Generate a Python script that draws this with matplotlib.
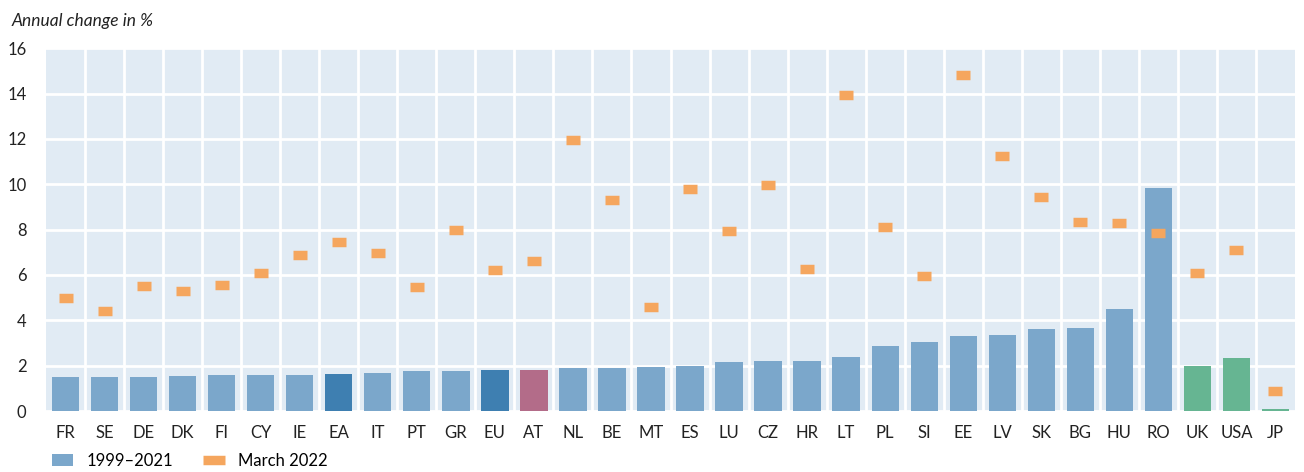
import matplotlib.pyplot as plt
import numpy as np
from matplotlib.patches import Patch
from matplotlib.lines import Line2D

plt.rcParams['font.family'] = ['Lato', 'DejaVu Sans']

# Daten
countries = ["FR", "SE", "DE", "DK", "FI", "CY", "IE", "EA", "IT", "PT", "GR", "EU", "AT",
             "NL", "BE", "MT", "ES", "LU", "CZ", "HR", "LT", "PL", "SI", "EE", "LV", "SK",
             "BG", "HU", "RO", "UK", "USA", "JP"]
avg_1999_2021 = [1.5, 1.5, 1.5, 1.55, 1.6, 1.6, 1.6, 1.65, 1.7, 1.75, 1.75, 1.8, 1.8,
                 1.9, 1.9, 1.95, 2.0, 2.15, 2.2, 2.2, 2.4, 2.85, 3.05, 3.3, 3.35, 3.6,
                 3.65, 4.5, 9.85, 2.0, 2.35, 0.1]
march_2022 = [5.0, 4.4, 5.5, 5.3, 5.55, 6.1, 6.9, 7.45, 6.95, 5.45, 8.0, 6.2, 6.6,
              11.95, 9.3, 4.6, 9.8, 7.95, 9.95, 6.25, 13.95, 8.1, 5.95, 14.8, 11.25, 9.45,
              8.35, 8.3, 7.85, 6.1, 7.1, 0.9]

c_light = "#7BA7CB"
c_dark = "#3E7FB1"
c_at = "#B36C89"
c_green = "#66B592"
c_orange = "#F5A65E"
bg = "#E1EBF4"

farben = []
for c in countries:
    if c in ("EA", "EU"):
        farben.append(c_dark)
    elif c == "AT":
        farben.append(c_at)
    elif c in ("UK", "USA", "JP"):
        farben.append(c_green)
    else:
        farben.append(c_light)

fig = plt.figure(figsize=(13.04, 4.72), dpi=100)
ax = fig.add_axes([0.0353, 0.129, 0.9578, 0.769])
ax.set_facecolor(bg)

x = np.arange(len(countries))
ax.bar(x, avg_1999_2021, width=0.7, color=farben, zorder=3)
ax.plot(x, march_2022, linestyle="none", marker="_", markersize=10,
        markeredgewidth=6.8, color=c_orange, zorder=4)

ax.set_xlim(-0.5, len(countries) - 0.5)
ax.set_ylim(0, 16)
ax.set_yticks(range(0, 17, 2))
ax.set_xticks(x)
ax.set_xticklabels(countries)
ax.set_xticks(x[:-1] + 0.5, minor=True)

ax.grid(axis="y", which="major", color="white", linewidth=2, zorder=1)
ax.grid(axis="x", which="minor", color="white", linewidth=2, zorder=1)
ax.grid(axis="x", which="major", visible=False)

for s in ax.spines.values():
    s.set_visible(False)
ax.tick_params(axis="both", which="both", length=0, labelsize=12, colors="#222222")
ax.tick_params(axis="y", pad=14)
ax.tick_params(axis="x", pad=10)

fig.text(0.009, 0.955, "Annual change in %", fontsize=12.5, style="italic",
         color="#222222", va="center")

handles = [Patch(facecolor=c_light), Line2D([], [], color=c_orange, linewidth=6.8,
                                            solid_capstyle="butt")]
fig.legend(handles, ["1999\u20132021", "March 2022"], loc="lower left",
           bbox_to_anchor=(0.028, -0.025), ncol=2, frameon=False, fontsize=12,
           handlelength=1.3, handletextpad=0.8, columnspacing=1.8)

fig.savefig("out.png", dpi=100)
